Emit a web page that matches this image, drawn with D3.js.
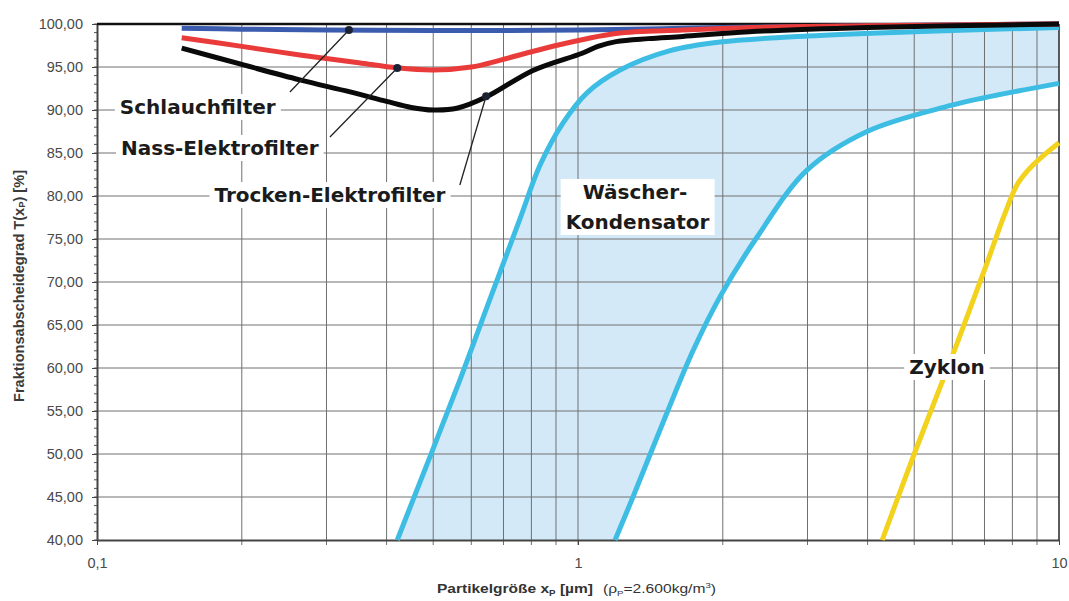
<!DOCTYPE html>
<html><head><meta charset="utf-8">
<script src="https://cdn.jsdelivr.net/npm/d3@7"></script>
<style>body{margin:0;background:#fff}svg{display:block}</style>
</head><body>
<script>
// ---- data (x: particle size in µm, y: fractional efficiency in %) ----
const schlauchX = [0.15, 0.2, 0.3, 0.5, 0.7, 1, 1.5, 2, 3, 5, 10];
const schlauchY = [99.5, 99.4, 99.3, 99.25, 99.25, 99.3, 99.45, 99.6, 99.7, 99.85, 100];
const nassX = [0.15, 0.2, 0.264, 0.35, 0.42, 0.5, 0.6, 0.69, 0.87, 1.2, 1.65, 2.3, 4, 10];
const nassY = [98.4, 97.4, 96.4, 95.5, 94.9, 94.65, 95.0, 95.8, 97.3, 98.9, 99.3, 99.6, 99.8, 100];
const trockenX = [0.15, 0.2, 0.264, 0.336, 0.4, 0.45, 0.5, 0.56, 0.644, 0.806, 1.02, 1.1, 1.2, 1.4, 1.65, 2.27, 4, 10];
const trockenY = [97.2, 95.3, 93.5, 92.1, 91.0, 90.3, 90.0, 90.2, 91.5, 94.6, 96.6, 97.4, 97.95, 98.3, 98.55, 99.1, 99.6, 100];
const waescherLoX = [0.421, 0.568, 0.652, 0.757, 0.834, 0.931, 1.044, 1.223, 1.554, 1.974, 3, 5, 10];
const waescherLoY = [40, 58.6, 67.6, 77.3, 83.6, 88.5, 92.0, 94.65, 96.9, 97.9, 98.6, 99.1, 99.6];
const waescherHiX = [1.194, 1.301, 1.531, 1.734, 1.974, 2.355, 2.993, 3.99, 5.93, 6.95, 10];
const waescherHiY = [40, 45.0, 54.8, 62.0, 68.3, 75.2, 83.0, 87.5, 90.5, 91.4, 93.1];
const zyklonX = [4.29, 5.0, 6.0, 7.0, 7.7, 8.2, 8.83, 10];
const zyklonY = [40, 50.0, 61.4, 71.4, 77.8, 81.4, 83.6, 86.2];

const yTicks = [40, 45, 50, 55, 60, 65, 70, 75, 80, 85, 90, 95, 100];
const yTickLabels = ["40,00","45,00","50,00","55,00","60,00","65,00","70,00","75,00","80,00","85,00","90,00","95,00","100,00"];
const xTicks = [0.1, 1, 10];
const xTickLabels = ["0,1", "1", "10"];
const labelTexts = ["Schlauchfilter", "Nass-Elektrofilter", "Trocken-Elektrofilter", "Wäscher-", "Kondensator", "Zyklon"];

// ---- layout ----
const W = 1069, H = 601;
const x = d3.scaleLog().domain([0.1, 10]).range([97, 1059]);
const y = d3.scaleLinear().domain([40, 100]).range([540, 24]);
const pts = (xs, ys) => xs.map((v, i) => [v, ys[i]]);
const curve = d3.curveCatmullRom.alpha(0.5);

const svg = d3.select("body").append("svg").attr("width", W).attr("height", H);
svg.append("rect").attr("width", W).attr("height", H).attr("fill", "#fff");

// Wäscher band
const area = d3.area().x(d => x(d[0])).y0(y(40)).y1(d => y(d[1])).curve(curve);
svg.append("path").attr("d", area(pts(waescherLoX, waescherLoY))).attr("fill", "#d4e9f7");
svg.append("path").attr("d", area(pts(waescherHiX, waescherHiY))).attr("fill", "#fff");

// grid
const vGrid = [];
[0.1, 1].forEach(dec => { for (let k = 2; k <= 9; k++) vGrid.push(k * dec); });
vGrid.push(1);
svg.append("g").selectAll("line").data(vGrid).join("line")
  .attr("x1", d => x(d)).attr("x2", d => x(d))
  .attr("y1", y(100)).attr("y2", y(40) + 5)
  .attr("stroke", "#707070").attr("stroke-width", 1);
svg.append("g").selectAll("line").data(yTicks.filter(v => v > 40 && v < 100)).join("line")
  .attr("x1", x(0.1)).attr("x2", x(10))
  .attr("y1", d => y(d)).attr("y2", d => y(d))
  .attr("stroke", "#707070").attr("stroke-width", 1);

// minor y ticks
svg.append("g").selectAll("line").data(d3.range(40, 101, 1)).join("line")
  .attr("x1", x(0.1) - 3).attr("x2", x(0.1))
  .attr("y1", d => y(d)).attr("y2", d => y(d))
  .attr("stroke", "#555").attr("stroke-width", 1);

// axes
const yAxis = d3.axisLeft(y).tickValues(yTicks).tickFormat((d, i) => yTickLabels[i])
  .tickSize(5).tickSizeOuter(0).tickPadding(9);
const gy = svg.append("g").attr("transform", `translate(${x(0.1)},0)`).call(yAxis);
gy.select(".domain").attr("stroke", "#444").attr("stroke-width", 2);
gy.selectAll(".tick line").attr("stroke", "#444");
gy.selectAll("text").attr("font-family", "Liberation Sans, Arial, sans-serif")
  .attr("font-size", 14.5).attr("fill", "#4a4a4a");

const xAxis = d3.axisBottom(x).tickValues(xTicks).tickFormat((d, i) => xTickLabels[i])
  .tickSize(5).tickSizeOuter(0).tickPadding(13);
const gx = svg.append("g").attr("transform", `translate(0,${y(40)})`).call(xAxis);
gx.select(".domain").attr("stroke", "#444").attr("stroke-width", 2.2);
gx.selectAll(".tick line").attr("stroke", "#444");
gx.selectAll("text").attr("font-family", "Liberation Sans, Arial, sans-serif")
  .attr("font-size", 14.5).attr("fill", "#4a4a4a");

// frame top & right
svg.append("line").attr("x1", x(0.1)).attr("x2", x(10)).attr("y1", y(100)).attr("y2", y(100))
  .attr("stroke", "#111").attr("stroke-width", 2.5);
svg.append("line").attr("x1", x(10)).attr("x2", x(10)).attr("y1", y(100)).attr("y2", y(40))
  .attr("stroke", "#333").attr("stroke-width", 1.6);

// curves
const line = d3.line().x(d => x(d[0])).y(d => y(d[1])).curve(curve);
const series = [
  [waescherLoX, waescherLoY, "#3dbde3"],
  [waescherHiX, waescherHiY, "#3dbde3"],
  [zyklonX, zyklonY, "#f2d21c"],
  [schlauchX, schlauchY, "#3b5cae"],
  [nassX, nassY, "#ea3b3b"],
  [trockenX, trockenY, "#0a0a0a"]
];
series.forEach(([xs, ys, c]) => {
  svg.append("path").attr("d", line(pts(xs, ys))).attr("fill", "none")
    .attr("stroke", c).attr("stroke-width", 5).attr("stroke-linejoin", "round");
});

// leader lines
const leaders = [
  [[0.2518, 92.09], [0.334, 99.3]],
  [[0.305, 86.86], [0.421, 94.88]],
  [[0.568, 81.28], [0.644, 91.6]]
];
leaders.forEach(([a, b]) => {
  svg.append("line").attr("x1", x(a[0])).attr("y1", y(a[1])).attr("x2", x(b[0])).attr("y2", y(b[1]))
    .attr("stroke", "#222").attr("stroke-width", 1.3);
  svg.append("circle").attr("cx", x(b[0])).attr("cy", y(b[1])).attr("r", 4).attr("fill", "#1c2233");
});

// labels
const labelPos = [[0.162, 90.35], [0.180, 85.58], [0.305, 80.12], [1.314, 80.47], [1.33, 76.98], [5.85, 60.12]];
const lg = svg.append("g");
const boxes = lg.append("g");
const texts = labelTexts.map((t, i) => lg.append("text")
  .attr("x", x(labelPos[i][0])).attr("y", y(labelPos[i][1]))
  .attr("text-anchor", "middle").attr("dominant-baseline", "central")
  .attr("font-family", "DejaVu Sans, Verdana, sans-serif").attr("font-weight", "bold")
  .attr("font-size", 20).attr("fill", "#1b1b1b").text(t));
const bb = texts.map(t => t.node().getBBox());
const drawBox = (b) => boxes.append("rect").attr("x", b.x - 5).attr("y", b.y - 1)
  .attr("width", b.width + 10).attr("height", b.height + 2).attr("fill", "#fff");
[0, 1, 2, 5].forEach(i => drawBox(bb[i]));
{
  const a = bb[3], b = bb[4];
  const x0 = Math.min(a.x, b.x), x1 = Math.max(a.x + a.width, b.x + b.width);
  drawBox({x: x0, y: a.y, width: x1 - x0, height: b.y + b.height - a.y});
}

// axis titles
const yt = svg.append("text").attr("transform", "translate(19,286) rotate(-90)")
  .attr("text-anchor", "middle").attr("dominant-baseline", "central")
  .attr("font-family", "Liberation Sans, Arial, sans-serif").attr("font-weight", "bold")
  .attr("font-size", 14).attr("fill", "#3a3a3a")
  .attr("textLength", 232).attr("lengthAdjust", "spacingAndGlyphs");
yt.append("tspan").text("Fraktionsabscheidegrad T(x");
yt.append("tspan").attr("font-size", 9).attr("dy", 3).text("P");
yt.append("tspan").attr("dy", -3).text(") [%]");

const xt = svg.append("text").attr("x", 437).attr("y", 593)
  .attr("font-family", "Liberation Sans, Arial, sans-serif").attr("font-weight", "bold")
  .attr("font-size", 13.5).attr("fill", "#333")
  .attr("textLength", 156).attr("lengthAdjust", "spacingAndGlyphs");
xt.append("tspan").text("Partikelgröße x");
xt.append("tspan").attr("font-size", 8.5).attr("dy", 3).text("P");
xt.append("tspan").attr("dy", -3).text(" [µm]");
const xt2 = svg.append("text").attr("x", 603).attr("y", 593)
  .attr("font-family", "Liberation Sans, Arial, sans-serif")
  .attr("font-size", 13).attr("fill", "#333")
  .attr("textLength", 113).attr("lengthAdjust", "spacingAndGlyphs");
xt2.append("tspan").text("(ρ");
xt2.append("tspan").attr("font-size", 8).attr("dy", 3).text("P");
xt2.append("tspan").attr("dy", -3).text("=2.600kg/m");
xt2.append("tspan").attr("font-size", 8).attr("dy", -5).text("3");
xt2.append("tspan").attr("dy", 5).text(")");
</script>
</body></html>
